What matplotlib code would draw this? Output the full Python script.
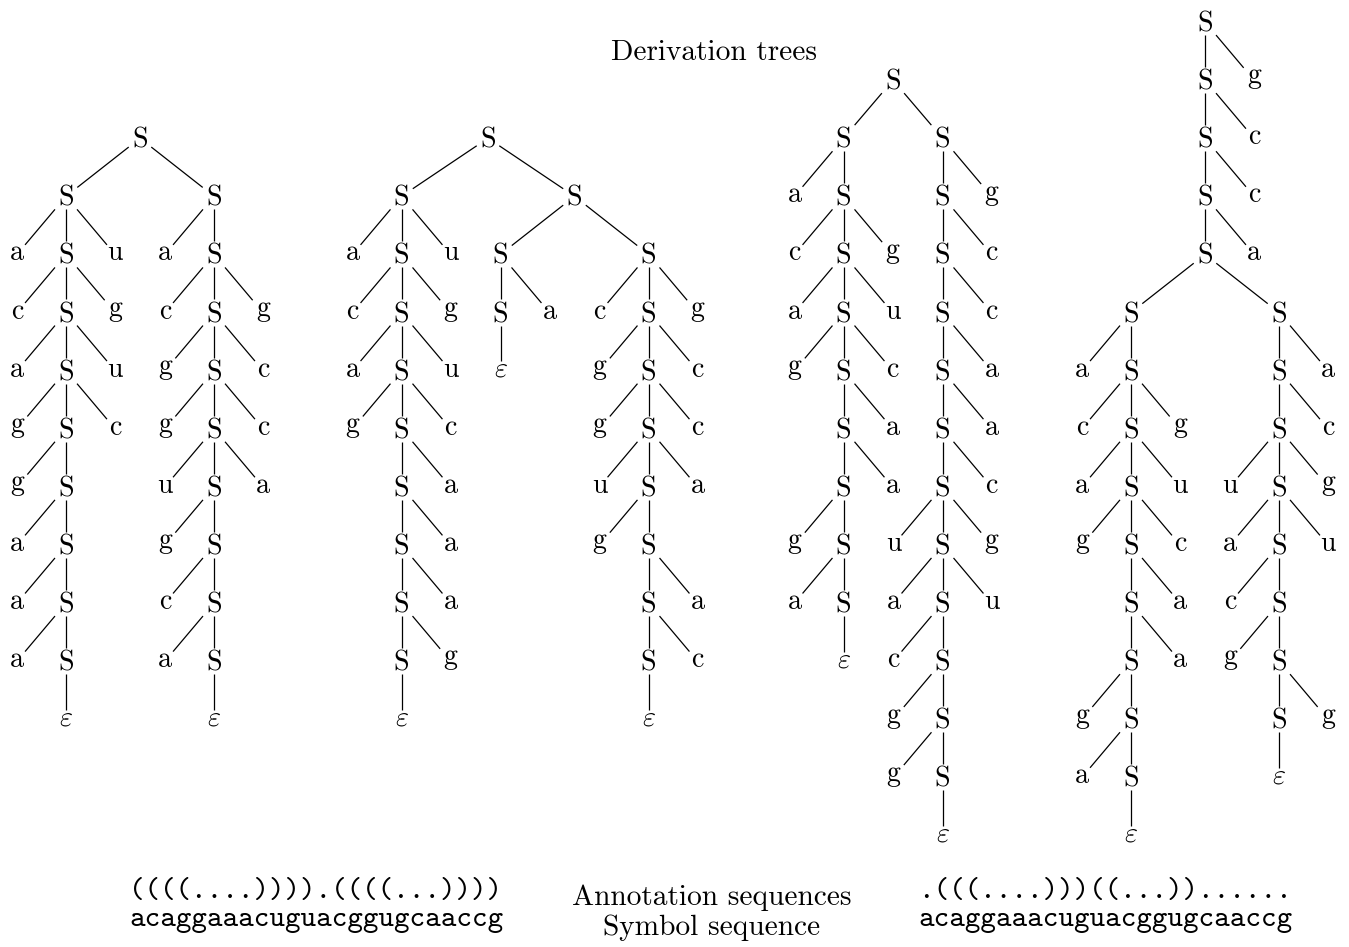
import re
import matplotlib.pyplot as plt

plt.rcParams['mathtext.fontset'] = 'cm'
plt.rcParams['axes.formatter.use_mathtext'] = True

# derivation trees in bracket notation, "e" stands for the empty word
tree_1 = ("[S [S a [S c [S a [S g [S g [S a [S a [S a [S e]]]]] c] u] g] u]"
          " [S a [S c [S g [S g [S u [S g [S c [S a [S e]]]] a] c] c] g]]]")
tree_2 = ("[S [S a [S c [S a [S g [S [S [S [S [S e] g] a] a] a] c] u] g] u]"
          " [S [S [S e] a] [S c [S g [S g [S u [S g [S [S [S e] c] a]] a] c] c] g]]]")
tree_3 = ("[S [S a [S c [S a [S g [S [S [S g [S a [S e]]] a] a] c] u] g]]"
          " [S [S [S [S [S [S [S u [S a [S c [S g [S g [S e]]]] u] g] c] a] a] c] c] g]]")
tree_4 = ("[S [S [S [S [S [S a [S c [S a [S g [S [S [S g [S a [S e]]] a] a] c] u] g]]"
          " [S [S [S u [S a [S c [S g [S [S e] g]]] u] g] c] a]] a] c] c] g]")
trees = [tree_1, tree_2, tree_3, tree_4]

annotation_left = "((((....)))).((((...))))"
annotation_right = ".(((....)))((...))......"
symbols = "acaggaaacuguacggugcaaccg"
title = "Derivation trees"
middle_labels = ["Annotation sequences", "Symbol sequence"]

# layout, in pixels
W, H = 1349, 947
root_x = [140, 488, 893, 1205]
root_level = [2, 2, 1, 0]
top = 22
level_dist = 58.1
side = 49      # terminal next to its S
gap = 50       # min gap between two sibling subtrees
em = 28.0
fs = em * 72 / 100
sep = 3.5

# glyph width, height, depth in em
metrics = {'S': (.556, .683, 0), 'a': (.5, .431, 0), 'c': (.444, .431, 0),
           'g': (.5, .431, .194), 'u': (.556, .431, 0), 'e': (.466, .431, 0)}


def parse(s):
    tokens = re.findall(r'\[|\]|[^\s\[\]]+', s)
    pos = 0

    def node():
        nonlocal pos
        tok = tokens[pos]
        pos += 1
        if tok == '[':
            label = tokens[pos]
            pos += 1
            kids = []
            while tokens[pos] != ']':
                kids.append(node())
            pos += 1
            return (label, kids)
        return (tok, [])
    return node()


def layout(n):
    label, kids = n
    if not kids:
        return {'label': label, 'kids': [], 'offs': []}, {0: (0, 0)}
    sub = [layout(k) for k in kids]
    spine = [i for i, k in enumerate(kids) if k[1]]
    offs = [0] * len(kids)
    if len(spine) == 2:
        i, j = spine
        cl, cr = sub[i][1], sub[j][1]
        d = max(cl[k][1] - cr[k][0] for k in cl if k in cr) + gap
        offs[i], offs[j] = -d / 2, d / 2
    elif len(spine) == 1:
        i = spine[0]
        offs = [(k - i) * side for k in range(len(kids))]
    contour = {0: (0, 0)}
    for o, (t, c) in zip(offs, sub):
        for lev, (lo, hi) in c.items():
            a, b = contour.get(lev + 1, (1e9, -1e9))
            contour[lev + 1] = (min(a, lo + o), max(b, hi + o))
    return {'label': label, 'kids': [t for t, c in sub], 'offs': offs}, contour


def box(label):
    w, h, d = metrics[label]
    return w * em / 2 + sep, (h + d) * em / 2 + sep


def clip(cx, cy, tx, ty, hw, hh):
    dx, dy = tx - cx, ty - cy
    t = min(hw / abs(dx) if dx else 1e9, hh / abs(dy) if dy else 1e9)
    return cx + dx * t, cy + dy * t


fig = plt.figure(figsize=(W / 100, H / 100), dpi=100)
ax = fig.add_axes([0, 0, 1, 1])
ax.set_xlim(0, W)
ax.set_ylim(H, 0)
ax.axis('off')


def draw(t, x, y):
    label = t['label']
    w, h, d = metrics[label]
    txt = r'$\varepsilon$' if label == 'e' else label
    ax.text(x, y + (h - d) / 2 * em, txt, ha='center', va='baseline',
            fontsize=fs, family='cmr10', color='black')
    for kid, o in zip(t['kids'], t['offs']):
        kx, ky = x + o, y + level_dist
        x0, y0 = clip(x, y, kx, ky, *box(label))
        x1, y1 = clip(kx, ky, x, y, *box(kid['label']))
        ax.plot([x0, x1], [y0, y1], color='black', lw=0.9,
                solid_capstyle='butt')
        draw(kid, kx, ky)


for s, rx, rl in zip(trees, root_x, root_level):
    t, _ = layout(parse(s))
    draw(t, rx, top + rl * level_dist)

tsize = 21.2
ax.text(714, 60, title, ha='center', va='baseline', fontsize=tsize, family='cmr10')
ax.text(712, 905, middle_labels[0], ha='center', va='baseline', fontsize=tsize, family='cmr10')
ax.text(712, 935, middle_labels[1], ha='center', va='baseline', fontsize=tsize, family='cmr10')
ax.text(316, 898, annotation_left, ha='center', va='baseline', fontsize=21.3, family='cmtt10')
ax.text(316, 926, symbols, ha='center', va='baseline', fontsize=21.3, family='cmtt10')
ax.text(1105, 898, annotation_right, ha='center', va='baseline', fontsize=21.3, family='cmtt10')
ax.text(1105, 926, symbols, ha='center', va='baseline', fontsize=21.3, family='cmtt10')

fig.savefig('out.png', dpi=100)
